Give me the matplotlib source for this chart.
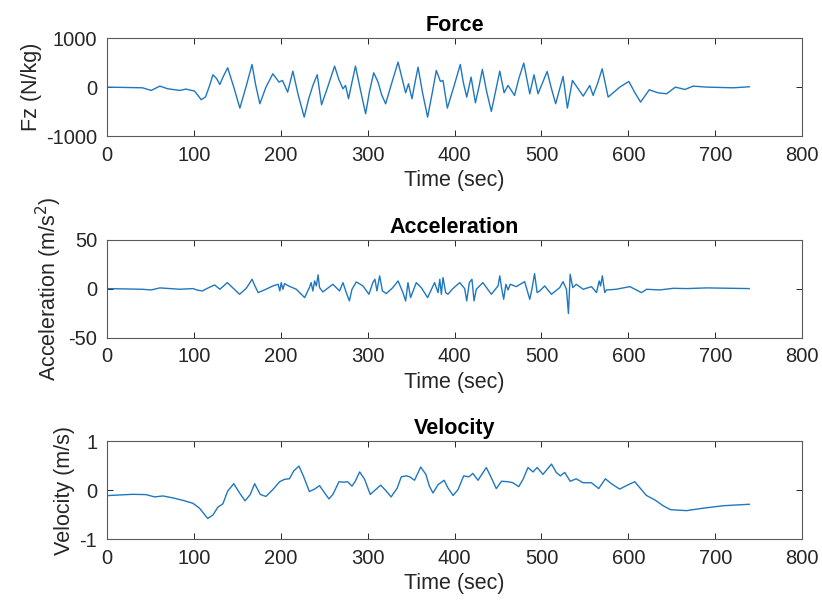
import matplotlib
matplotlib.use("Agg")
import matplotlib.pyplot as plt
import numpy as np

plt.rcParams['font.family'] = ['Liberation Sans', 'DejaVu Sans']
plt.rcParams['axes.unicode_minus'] = False

# Force (N/kg)
force_t = [0, 41, 51, 61, 70, 84, 91, 101, 108.6, 113.5, 118, 122, 126, 130, 134, 139, 146, 153,
           160, 167, 171, 176, 183, 191, 198, 202, 208, 214, 220, 227, 232, 237, 242, 247,
           254, 262, 267, 271.6, 274.6, 278, 282, 286, 292, 297.7, 302, 307, 312, 316, 320.7,
           328, 335, 340, 343.7, 347, 351, 354, 358, 363, 369, 374, 379, 383.7, 386.7, 391.7,
           399, 406.6, 410, 414, 419, 424, 428, 432, 437, 442.3, 447, 452, 457, 461.5, 469,
           474, 479.6, 486.5, 491.4, 496, 501, 506.5, 511, 516.3, 524.8, 529.8, 535.6, 548,
           555.5, 559.4, 565, 569.8, 576.7, 590, 600.5, 607, 614, 624, 634, 644, 654, 665,
           674.5, 690, 720.6, 739]
force_v = [0, -14, -68, 20, -34, -68, -40, -82, -258, -200, 20, 252, 180, 54, 220, 394, 0, -428,
           0, 462, 60, -340, 0, 272, 102, 136, -102, 326, -150, -612, -250, 34, 252, -360,
           0, 428, 150, -34, 34, -238, 100, 428, -80, -544, -100, 292, 102, -150, -340,
           100, 510, 150, -116, 68, -238, 50, 408, -100, -612, -150, 340, 116, 136, -428,
           0, 462, 100, -204, 204, -320, 0, 360, -100, -496, -100, 326, -116, 34, -170,
           180, 490, -136, 252, -136, 80, 320, 0, -340, 218, -428, 136, -184,
           34, -170, 100, 374, -204, 0, 116, -100, -306, -54, -116, -136, 0, -48,
           20, 0, -14, 7]

# Acceleration (m/s^2)
acc_t = [0, 41, 51, 61, 84, 99, 104.7, 110, 115, 124, 130, 138.5, 152.7, 160, 164, 167, 170,
         174, 183, 191, 197, 199, 200.6, 202.5, 204.5, 209, 218, 227.5, 233, 235, 237, 239,
         241, 243, 244.7, 248.5, 260, 267.7, 271.6, 275.4, 279, 282, 287, 294.6, 301.5, 306,
         308.4, 310.7, 313.8, 317, 321.4, 329, 335, 340.6, 343.7, 346.4, 349.4, 356, 361.7,
         369, 377, 379, 381, 383, 384.8, 386.7, 389.8, 392.4, 398, 406, 411.6, 414, 417, 420,
         422.4, 425, 432.6, 442.3, 450, 452, 454, 456.5, 459, 461.5, 464, 471, 480.6, 486.5,
         489, 492, 495, 498, 503.7, 511.4, 521, 524.8, 528.7, 531, 533, 536, 540, 548, 557.5,
         563.3, 566.4, 568, 570, 572.8, 574.7, 586, 601.7, 615, 621, 636, 651.6, 667, 690, 739]
acc_v = [0, -0.7, -1.4, 0.7, -0.7, 0, -1.7, -2.4, 0, 3.7, -0.7, 6.1, -5.8, 0, 5.1, 9.5, 3.4,
         -4.1, -0.7, 2.7, 4.4, -2.4, 6.1, -0.7, 5.1, 2.7, -0.7, -9.2, 1, 6.1, -2.4, 7.8,
         2.7, 14, 1, -3.4, 4.4, -2.4, 6.1, -4.1, -12.6, -0.7, 6.8, 2.7, -5.8, 6.1,
         9.5, -2.4, 13, -2.4, -5.1, 1, 7.8, -4.1, -12.6, 6.1, -9.2, 6.1, 1,
         -9.2, 6.1, 1, -4.1, 9.5, -5.8, 11.2, -4.1, -5.8, 0, 6.1, 0, -12.6, 6.1, 9.5,
         -12.6, -0.7, 6.1, -5.8, 2.7, 13, 1, -10.9, 4.4, -1.4, 4.4, 2, 7.1, -10.9,
         -0.7, 15.3, -4.1, -2.4, 2.7, -5.8, 1, 7.1, -0.7, -25.5, 14.6, 1, 4.4, -0.7, 2,
         -4.1, 7.8, 2.7, 13, -4.1, -1.4, -0.7, 2, -4.1, -0.7, -1.4, 0.3, 0, 0.7, 0]

# Velocity (m/s)
vel_t = [0, 14.6, 30, 45, 55, 64.4, 76, 87.5, 99, 106.6, 116, 122, 127.7, 133.5, 139, 146,
         152.7, 159, 165, 170, 176.5, 183, 191, 198.7, 204.5, 210, 215, 221, 226, 233, 239,
         244.7, 250.5, 255.5, 260, 267, 272.7, 277, 282, 285.8, 290.8, 296.5, 303, 308, 315,
         321.4, 327, 334, 338.7, 344.5, 348.4, 354, 361, 367, 371, 375.2, 381, 388, 392.5,
         398.3, 404, 410.5, 416.6, 421, 427, 436.5, 442.3, 448, 454, 461.5, 467, 473.8,
         478.8, 484.5, 490.3, 495, 501.7, 511.5, 517, 521.7, 526.7, 533, 540, 547.6, 557.4,
         565.8, 573.5, 580.4, 590, 597.6, 607.3, 613, 620.7, 630.3, 639.9, 648.4, 666.8,
         686, 709, 739]
vel_v = [-0.114, -0.10, -0.087, -0.093, -0.14, -0.12, -0.16, -0.21, -0.27, -0.37, -0.58,
         -0.51, -0.35, -0.28, -0.02, 0.13, -0.06, -0.22, -0.09, 0.13, -0.09, -0.13, 0.01,
         0.17, 0.22, 0.23, 0.39, 0.49, 0.29, -0.03, 0.02, 0.09, -0.06, -0.18, -0.09, 0.17,
         0.16, 0.17, 0.08, 0.18, 0.37, 0.22, -0.09, -0.01, 0.10, -0.02, -0.14, 0.04, 0.27,
         0.29, 0.27, 0.20, 0.47, 0.32, 0.08, -0.06, 0.11, 0.20, 0.04, -0.11, 0.01, 0.29,
         0.27, 0.34, 0.20, 0.46, 0.25, 0.03, 0.18, 0.17, 0.15, 0.07, 0.22, 0.46, 0.37, 0.46,
         0.32, 0.53, 0.36, 0.29, 0.36, 0.18, 0.23, 0.15, 0.15, 0.03, 0.23, 0.13, 0.02, 0.09,
         0.17, 0.05, -0.11, -0.20, -0.32, -0.40, -0.42, -0.37, -0.32, -0.29]

panels = [
    ("Force", "Fz (N/kg)", force_t, force_v, [-1000, 0, 1000]),
    ("Acceleration", "Acceleration (m/s$^2$)", acc_t, acc_v, [-50, 0, 50]),
    ("Velocity", "Velocity (m/s)", vel_t, vel_v, [-1, 0, 1]),
]

fig, axes = plt.subplots(3, 1, figsize=(8.22, 6.05), dpi=100)
fig.subplots_adjust(left=0.130, right=0.976, top=0.937, bottom=0.109, hspace=1.056)

for ax, (title, ylab, t, v, yt) in zip(axes, panels):
    ax.plot(t, v, color="#1f77c0", linewidth=1.0)
    ax.set_xlim(0, 800)
    ax.set_ylim(yt[0], yt[-1])
    ax.set_xticks(range(0, 801, 100))
    ax.set_yticks(yt)
    ax.set_title(title, fontsize=15.5, fontweight="bold", pad=5)
    ax.set_ylabel(ylab, fontsize=15.5, color="#262626", labelpad=3)
    ax.set_xlabel("Time (sec)", fontsize=15.5, color="#262626", labelpad=4)
    ax.tick_params(direction="in", top=True, right=True, length=4, width=0.7,
                   labelsize=14.5, colors="#262626", pad=7)
    for s in ax.spines.values():
        s.set_color("#5a5a5a")
        s.set_linewidth(0.8)

fig.savefig("out.png", dpi=100)
